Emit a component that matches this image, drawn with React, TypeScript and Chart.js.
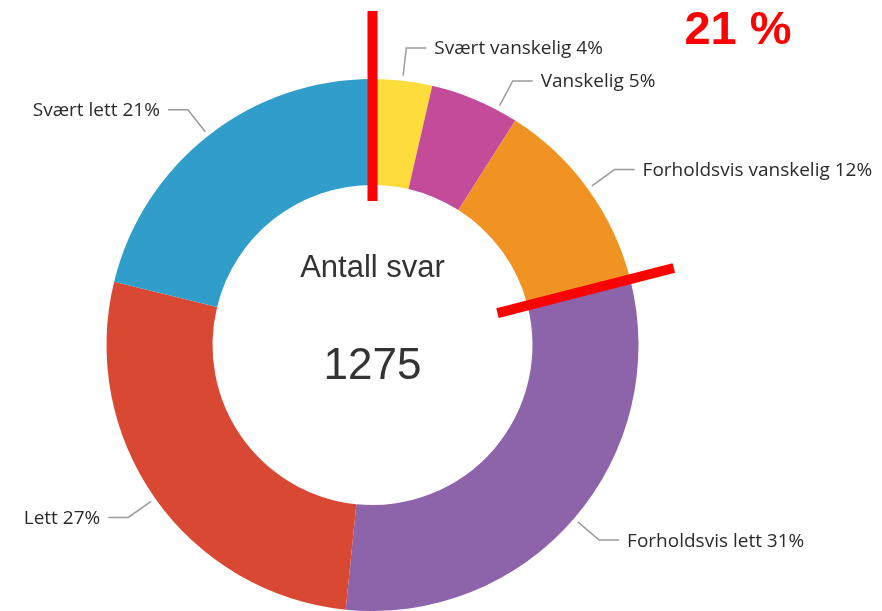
import React, { useEffect, useRef } from "react";
import { Chart, registerables } from "chart.js";

Chart.register(...registerables);

const categories = [
  "Svært vanskelig",
  "Vanskelig",
  "Forholdsvis vanskelig",
  "Forholdsvis lett",
  "Lett",
  "Svært lett",
];
const counts = [46, 69, 153, 390, 347, 270];
const sliceColors = ["#FDDC3C", "#C34B99", "#F09322", "#8D63AA", "#D94832", "#309DCA"];
const centerTitle = "Antall svar";
const highlightCount = 3; // first three categories summed in the red annotation

const total = counts.reduce((a, b) => a + b, 0);
const pct = (v: number) => Math.round((v / total) * 100);

const labelPlugin = {
  id: "labelPlugin",
  afterDraw(chart: any) {
    const ctx = chart.ctx;
    const meta = chart.getDatasetMeta(0);
    const arcs = meta.data as any[];
    if (!arcs.length) return;
    const cx = arcs[0].x;
    const cy = arcs[0].y;
    const outer = arcs[0].outerRadius;
    const rStart = outer + 5;
    const rElbow = outer + 33;
    const minGap = 33;

    type L = { i: number; ang: number; side: number; ey: number; ex: number; sx: number; sy: number };
    const items: L[] = arcs.map((a, i) => {
      const ang = (a.startAngle + a.endAngle) / 2;
      const side = Math.cos(ang) >= 0 ? 1 : -1;
      return {
        i,
        ang,
        side,
        ex: cx + rElbow * Math.cos(ang),
        ey: cy + rElbow * Math.sin(ang),
        sx: cx + rStart * Math.cos(ang),
        sy: cy + rStart * Math.sin(ang),
      };
    });
    [1, -1].forEach((side) => {
      const group = items.filter((it) => it.side === side).sort((a, b) => a.ey - b.ey);
      for (let k = 1; k < group.length; k++) {
        const prev = group[k - 1];
        const it = group[k];
        if (it.ey < prev.ey + minGap) {
          const ny = prev.ey + minGap;
          const dy = ny - cy;
          const dx = side * Math.sqrt(Math.max(0, rElbow * rElbow - dy * dy));
          const ang = Math.atan2(dy, dx);
          it.ang = ang;
          it.ey = ny;
          it.ex = cx + dx;
          it.sx = cx + rStart * Math.cos(ang);
          it.sy = cy + rStart * Math.sin(ang);
        }
      }
    });

    ctx.save();
    // leader lines + labels
    items.forEach((it) => {
      const hx = it.ex + it.side * 20;
      ctx.strokeStyle = "#9a9a9a";
      ctx.lineWidth = 1.5;
      ctx.beginPath();
      ctx.moveTo(it.sx, it.sy);
      ctx.lineTo(it.ex, it.ey);
      ctx.lineTo(hx, it.ey);
      ctx.stroke();
      ctx.fillStyle = "#2b2b2b";
      ctx.font = '19px "Open Sans", "Noto Sans", sans-serif';
      ctx.textBaseline = "middle";
      ctx.textAlign = it.side > 0 ? "left" : "right";
      ctx.fillText(
        `${categories[it.i]} ${pct(counts[it.i])}%`,
        hx + it.side * 8,
        it.ey + 1
      );
    });

    // center text
    ctx.fillStyle = "#333333";
    ctx.textAlign = "center";
    ctx.textBaseline = "middle";
    ctx.font = '31px "Liberation Sans", Arial, sans-serif';
    ctx.fillText(centerTitle, cx, cy - 77);
    ctx.font = '44px "Liberation Sans", Arial, sans-serif';
    ctx.fillText(String(total), cx, cy + 22);

    // red annotation lines
    const drawRay = (ang: number, r0: number, r1: number) => {
      ctx.strokeStyle = "#FF0000";
      ctx.lineWidth = 10;
      ctx.lineCap = "butt";
      ctx.beginPath();
      ctx.moveTo(cx + r0 * Math.cos(ang), cy + r0 * Math.sin(ang));
      ctx.lineTo(cx + r1 * Math.cos(ang), cy + r1 * Math.sin(ang));
      ctx.stroke();
    };
    drawRay(arcs[0].startAngle, outer - 122, outer + 68);
    drawRay(arcs[highlightCount - 1].endAngle, outer - 137, outer + 45);

    // red percentage
    const sumPct = counts.slice(0, highlightCount).reduce((a, v) => a + pct(v), 0);
    ctx.fillStyle = "#FF0000";
    ctx.font = 'bold 47px "Liberation Sans", Arial, sans-serif';
    ctx.textAlign = "center";
    ctx.textBaseline = "middle";
    ctx.fillText(`${sumPct} %`, 738, 31);
    ctx.restore();
  },
};

export default function App() {
  const ref = useRef<HTMLCanvasElement | null>(null);
  useEffect(() => {
    if (!ref.current) return;
    const chart = new Chart(ref.current, {
      type: "doughnut",
      data: {
        labels: categories,
        datasets: [
          {
            data: counts,
            backgroundColor: sliceColors,
            borderWidth: 0,
            radius: 266,
            cutout: 160,
          } as any,
        ],
      },
      options: {
        responsive: false,
        animation: false,
        layout: { padding: { left: 0, right: 137, top: 79, bottom: 0 } },
        plugins: { legend: { display: false }, tooltip: { enabled: false } },
      },
      plugins: [labelPlugin],
    });
    return () => chart.destroy();
  }, []);
  return (
    <div style={{ position: "absolute", left: 0, top: 0, width: 882, height: 611, background: "#fff" }}>
      <canvas ref={ref} width={882} height={611} />
    </div>
  );
}
